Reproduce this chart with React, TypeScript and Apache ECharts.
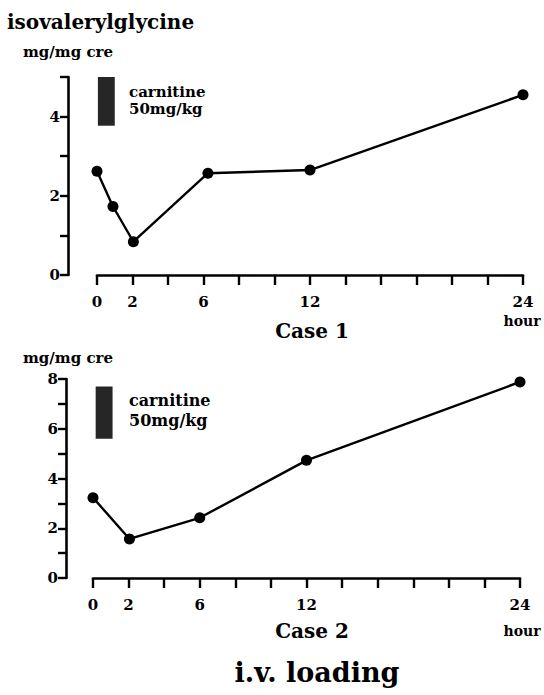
import React, { useEffect, useRef } from "react";
import * as echarts from "echarts";

const case1Hours = [0, 0.9, 2.05, 6.25, 12, 24];
const case1Values = [2.62, 1.73, 0.84, 2.57, 2.65, 4.55];
const case2Hours = [0, 2.05, 6, 12, 24];
const case2Values = [3.23, 1.57, 2.42, 4.73, 7.88];
const xLabelTicks = [0, 2, 6, 12, 24];
const y1Labels = [0, 2, 4];
const y2Labels = [0, 2, 4, 6, 8];
const carnitine1 = { hours: [0.05, 1.0], values: [3.77, 5.0] };
const carnitine2 = { hours: [0.15, 1.1], values: [5.6, 7.7] };

const FONT = "DejaVu Serif";

export default function App() {
  const ref = useRef<HTMLDivElement>(null);
  useEffect(() => {
    if (!ref.current) return;
    const chart = echarts.init(ref.current, null, { renderer: "svg" });
    const axisLine = { show: true, onZero: false, lineStyle: { color: "#000", width: 2.6 } };
    const tickLabel = {
      fontFamily: FONT,
      fontWeight: "bold" as const,
      fontSize: 15,
      color: "#000",
    };
    const mkX = (gridIndex: number) => ({
      type: "value" as const,
      gridIndex,
      min: 0,
      max: 24,
      interval: 2,
      axisLine,
      axisTick: { show: true, length: 10, lineStyle: { color: "#000", width: 2.4 } },
      axisLabel: {
        ...tickLabel,
        margin: 19,
        formatter: (v: number) => (xLabelTicks.includes(v) ? String(v) : ""),
      },
      splitLine: { show: false },
    });
    const mkY = (gridIndex: number, max: number, labels: number[], offset: number) => ({
      type: "value" as const,
      gridIndex,
      min: 0,
      max,
      interval: 1,
      offset,
      axisLine,
      axisTick: { show: true, length: 8, lineStyle: { color: "#000", width: 2.4 } },
      axisLabel: {
        ...tickLabel,
        margin: 8,
        formatter: (v: number) => (labels.includes(v) ? String(v) : ""),
      },
      splitLine: { show: false },
    });
    const mkArea = (c: { hours: number[]; values: number[] }) => ({
      silent: true,
      itemStyle: { color: "#262626" },
      data: [
        [
          { xAxis: c.hours[0], yAxis: c.values[1] },
          { xAxis: c.hours[1], yAxis: c.values[0] },
        ],
      ],
    });
    const txt = (
      text: string,
      x: number,
      y: number,
      size: number,
      align: "left" | "center" = "left"
    ) => ({
      type: "text" as const,
      x,
      y,
      style: {
        text,
        fontFamily: FONT,
        fontWeight: "bold",
        fontSize: size,
        fill: "#000",
        textAlign: align,
        textVerticalAlign: "middle",
      },
    });
    chart.setOption({
      animation: false,
      backgroundColor: "#fff",
      grid: [
        { left: 97, right: 21, top: 77, height: 198 },
        { left: 93, right: 24, top: 379, height: 199 },
      ],
      xAxis: [mkX(0), mkX(1)],
      yAxis: [mkY(0, 5, y1Labels, 29), mkY(1, 8, y2Labels, 27)],
      series: [
        {
          type: "line",
          xAxisIndex: 0,
          yAxisIndex: 0,
          data: case1Hours.map((h, i) => [h, case1Values[i]]),
          symbol: "circle",
          symbolSize: 11,
          lineStyle: { color: "#000", width: 2.4 },
          itemStyle: { color: "#000" },
          markArea: mkArea(carnitine1),
        },
        {
          type: "line",
          xAxisIndex: 1,
          yAxisIndex: 1,
          data: case2Hours.map((h, i) => [h, case2Values[i]]),
          symbol: "circle",
          symbolSize: 11,
          lineStyle: { color: "#000", width: 2.4 },
          itemStyle: { color: "#000" },
          markArea: mkArea(carnitine2),
        },
      ],
      graphic: [
        txt("isovalerylglycine", 7, 22, 20),
        txt("mg/mg cre", 23, 52, 15),
        txt("carnitine", 129, 92, 15),
        txt("50mg/kg", 129, 109, 15),
        txt("Case 1", 312, 331, 20, "center"),
        txt("hour", 522, 321, 14, "center"),
        txt("mg/mg cre", 23, 358, 15),
        txt("carnitine", 129, 400, 16),
        txt("50mg/kg", 129, 420, 16),
        txt("Case 2", 312, 631, 20, "center"),
        txt("hour", 522, 631, 14, "center"),
        txt("i.v. loading", 317, 672, 27, "center"),
      ],
    });
    return () => chart.dispose();
  }, []);
  return (
    <div
      ref={ref}
      style={{ position: "fixed", left: 0, top: 0, width: 544, height: 695 }}
    />
  );
}
